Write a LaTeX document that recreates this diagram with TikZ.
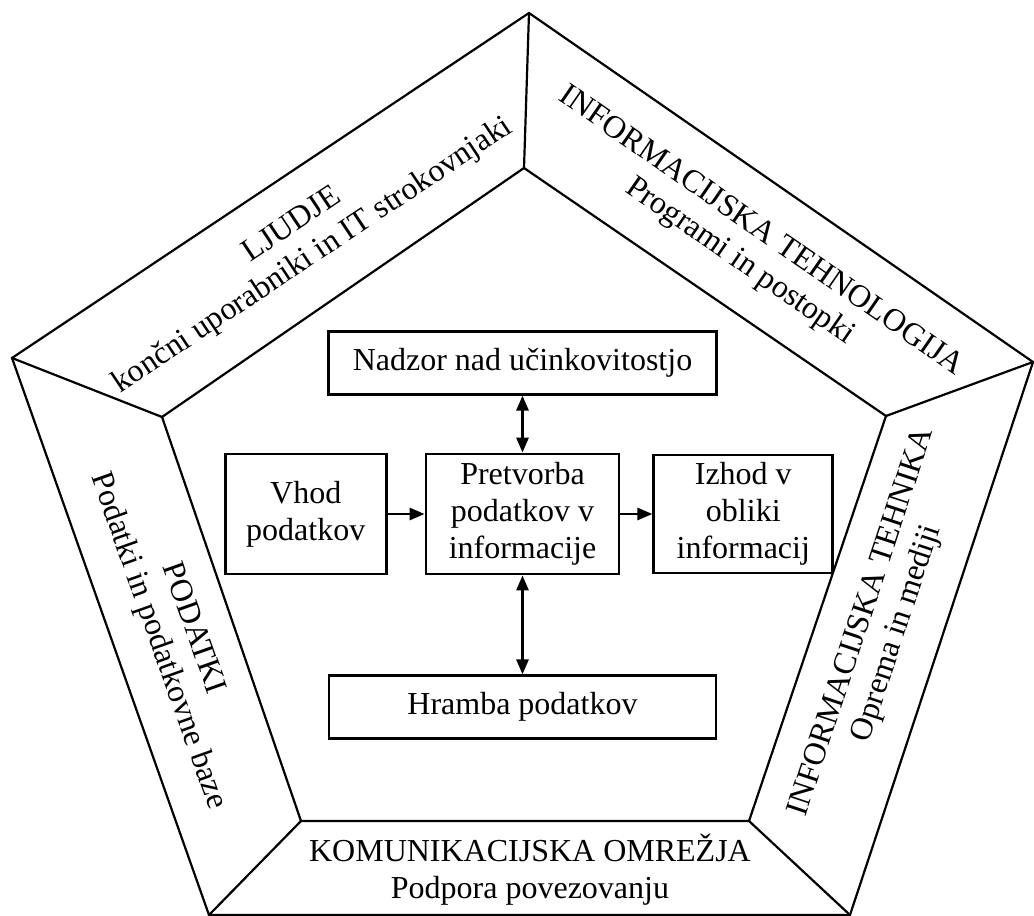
\documentclass[tikz,border=0pt]{standalone}
\usepackage{fontspec}
\setmainfont{Liberation Serif}
\usetikzlibrary{positioning,arrows.meta}

\begin{document}
\begin{tikzpicture}[x=1pt, y=1pt, every node/.style={
              align=center, inner sep=0pt, font=\fontsize{32}{37}\selectfont},
              box/.style={draw, line width=2.8pt},
              conn/.style={line width=2.8pt, -{Triangle[length=15pt,width=12pt]}},
              biconn/.style={line width=2.8pt,
                {Triangle[length=15pt,width=12pt]}-{Triangle[length=15pt,width=12pt]}}]
            \useasboundingbox (0,0) rectangle (1034,916);
            % pentagon corners, outer and inner
            \coordinate (o1) at (529,903); \coordinate (i1) at (524,748);
            \coordinate (o2) at (1033,554); \coordinate (i2) at (886,500);
            \coordinate (o3) at (850,1);    \coordinate (i3) at (749,95);
            \coordinate (o4) at (209,1);    \coordinate (i4) at (301,95);
            \coordinate (o5) at (12,558);   \coordinate (i5) at (162,499);
            \draw[line width=2.2pt] (o1)--(o2)--(o3)--(o4)--(o5)--cycle;
            \draw[line width=2.2pt] (i1)--(i2)--(i3)--(i4)--(i5)--cycle;
            \foreach \k in {1,...,5} \draw[line width=2.2pt] (o\k)--(i\k);
            % side labels
            \node[rotate=33.7] (ljudje) at (303,675)
              {LJUDJE\\končni uporabniki in IT strokovnjaki};
            \node[rotate=-34.7] (tehnologija) at (750,669)
              {INFORMACIJSKA TEHNOLOGIJA\\Programi in postopki};
            \node[rotate=71.7] (tehnika) at (880,288)
              {INFORMACIJSKA TEHNIKA\\Oprema in mediji};
            \node[rotate=-70.5] (podatki) at (175,281)
              {PODATKI\\Podatki in podatkovne baze};
            \node (omrezja) at (530,46)
              {KOMUNIKACIJSKA OMREŽJA\\Podpora povezovanju};
            % processing boxes
            \node (pretvorba) [box, minimum width=193pt, minimum height=120pt]
              at (522.5,402) {Pretvorba\\podatkov v\\informacije};
            \node (vhod) [box, left=37pt of pretvorba, minimum width=161pt,
              minimum height=120pt] {Vhod\\podatkov};
            \node (izhod) [box, right=32pt of pretvorba, minimum width=179pt,
              minimum height=118pt] {Izhod v\\obliki\\informacij};
            \node (nadzor) [box, above=57pt of pretvorba, minimum width=388pt,
              minimum height=63pt] {Nadzor nad učinkovitostjo};
            \node (hramba) [box, below=99pt of pretvorba, minimum width=387pt,
              minimum height=63pt] {Hramba podatkov};
            \draw[conn] (vhod)--(pretvorba); \draw[conn] (pretvorba)--(izhod);
            \draw[biconn] (nadzor)--(pretvorba); \draw[biconn] (pretvorba)--(hramba);
          \end{tikzpicture}
\end{document}
